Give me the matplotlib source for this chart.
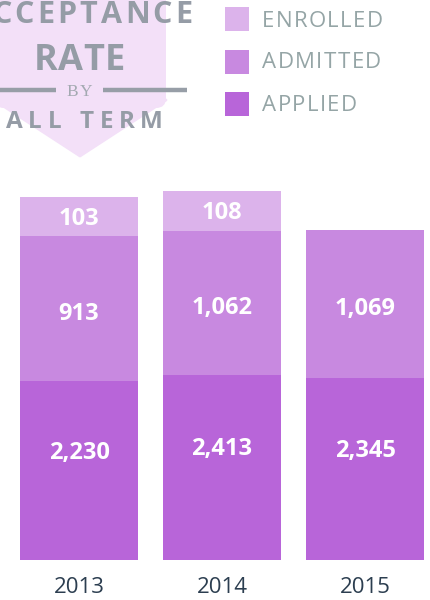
import matplotlib
matplotlib.use('Agg')
import matplotlib.pyplot as plt
from matplotlib.patches import FancyBboxPatch, Polygon, Rectangle
import numpy as np

# ---- data -------------------------------------------------------------
years = ['2013', '2014', '2015']
applied = [2230, 2413, 2345]
admitted = [913, 1062, 1069]
enrolled = [103, 108, None]
# segment sizes as drawn in the reference (display units; the reference's
# bars are not drawn to scale of the printed values)
applied_size = [179, 185, 182]
admitted_size = [145, 144, 148]
enrolled_size = [39, 40, 0]
legend_labels = ['ENROLLED', 'ADMITTED', 'APPLIED']
title_lines = ['ACCEPTANCE', 'RATE', 'BY', 'FALL TERM']

c_applied = '#b865d9'
c_admitted = '#c889e0'
c_enrolled = '#dcb3eb'
c_title = '#959ca6'
c_legend = '#95a5a6'
c_badge = '#f3e0f8'

fig = plt.figure(figsize=(4.3, 6), dpi=100)

# ---- bars ---------------------------------------------------------------
ax = fig.add_axes([0, 40 / 600, 1, 560 / 600])
x = np.arange(len(years))
w = 118 / 143
ax.bar(x, applied_size, w, color=c_applied, linewidth=0)
ax.bar(x, admitted_size, w, bottom=applied_size, color=c_admitted, linewidth=0)
b2 = np.add(applied_size, admitted_size)
ax.bar(x, enrolled_size, w, bottom=b2, color=c_enrolled, linewidth=0)
ax.set_xlim(-79 / 143, -79 / 143 + 430 / 143)
ax.set_ylim(0, 560)
for s in ax.spines.values():
    s.set_visible(False)
ax.set_yticks([])
ax.set_xticks(x)
ax.set_xticklabels(years, fontsize=16, family='Open Sans', color='#2c3e50')
ax.tick_params(axis='x', length=0, pad=12.5)
ax.patch.set_alpha(0)

lab_kw = dict(ha='center', va='baseline', color='white', fontsize=17,
              fontweight='bold', family='Open Sans',
              textcoords='offset points', xytext=(0, -6))
for i in range(len(years)):
    ax.annotate(f'{applied[i]:,}', (x[i], 0.61 * applied_size[i]), **lab_kw)
    ax.annotate(f'{admitted[i]:,}', (x[i], applied_size[i] + 0.48 * admitted_size[i]), **lab_kw)
    if enrolled[i] is not None:
        ax.annotate(f'{enrolled[i]:,}', (x[i], b2[i] + 0.5 * enrolled_size[i]), **lab_kw)

# ---- overlay (pixel coordinates) ----------------------------------------
ov = fig.add_axes([0, 0, 1, 1])
ov.set_xlim(0, 430)
ov.set_ylim(600, 0)
ov.axis('off')
ov.patch.set_alpha(0)

ov.add_patch(FancyBboxPatch((-6, -10), 172, 118,
                            boxstyle='round,pad=0,rounding_size=10',
                            facecolor=c_badge, edgecolor='none'))
ov.add_patch(Polygon([(-6, 100), (166, 100), (80, 156)], closed=True,
                     facecolor=c_badge, edgecolor=c_badge, lw=2,
                     joinstyle='round'))

renderer = fig.canvas.get_renderer()


def char_w(ch, **kw):
    t = ov.text(0, 0, ch, **kw)
    bb = t.get_window_extent(renderer)
    t.remove()
    return bb.width


def spaced(s, x0, y, spacing, center=True, space_w=6, **kw):
    widths = [char_w(c, **kw) if c != ' ' else space_w for c in s]
    total = sum(widths) + spacing * (len(s) - 1)
    cur = x0 - total / 2 if center else x0
    for c, wd in zip(s, widths):
        if c != ' ':
            ov.text(cur, y, c, ha='left', va='baseline', **kw)
        cur += wd + spacing


tk = dict(family='Open Sans', fontweight='bold', color=c_title)
spaced(title_lines[0], 80, 23, 3.2, fontsize=22, **tk)
spaced(title_lines[1], 79.5, 70, 0.5, fontsize=26, **tk)
spaced(title_lines[2], 79.5, 95.7, 1, fontsize=12.5, family='Liberation Serif',
       color='#a3a9b1')
spaced(title_lines[3], 75, 128.5, 5.5, space_w=8, fontsize=17.5, **tk)
ov.plot([-30, 56], [89.5, 89.5], color='#979ea7', lw=3.2, solid_capstyle='butt')
ov.plot([103, 187], [89.5, 89.5], color='#979ea7', lw=3.2, solid_capstyle='butt')

# legend
leg_colors = [c_enrolled, c_admitted, c_applied]
leg_tops = [7, 50, 92]
leg_base = [26.7, 68.3, 111]
for lab, col, top, base in zip(legend_labels, leg_colors, leg_tops, leg_base):
    ov.add_patch(Rectangle((225, top), 24, 24, facecolor=col, edgecolor='none'))
    spaced(lab, 262, base, 1.4, center=False, fontsize=16, family='Open Sans',
           color=c_legend)

fig.savefig('out.png', dpi=100)
